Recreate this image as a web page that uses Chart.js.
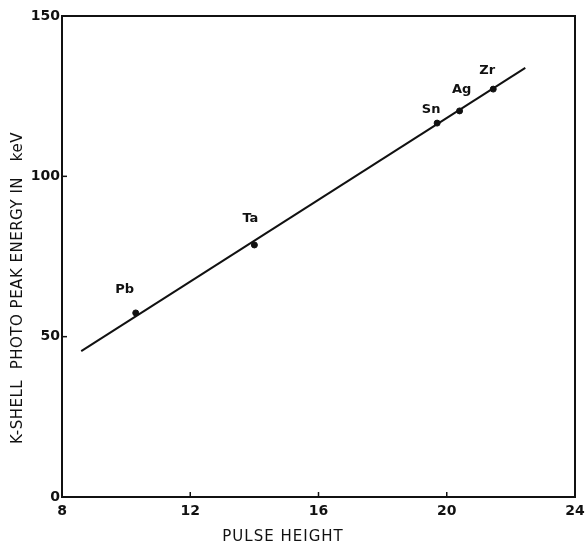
<!DOCTYPE html>
<html>
<head>
<meta charset="utf-8">
<script src="https://cdn.jsdelivr.net/npm/chart.js@4"></script>
<style>
  html, body { margin: 0; padding: 0; background: #fff; }
  #wrap { width: 585px; height: 544px; }
</style>
</head>
<body>
<div id="wrap"><canvas id="chart" width="585" height="544"></canvas></div>
<script>
// --- data ---
const elements = ['Pb', 'Ta', 'Sn', 'Ag', 'Zr'];
const pulseHeight = [10.3, 14.0, 19.7, 20.4, 21.45];
const peakEnergy = [57.4, 78.6, 116.6, 120.4, 127.2];

// fitted straight line, ends as drawn
const fitX = [8.6, 22.45];
const fitY = [45.5, 133.8];

const xTicks = [8, 12, 16, 20, 24];
const yTicks = [0, 50, 100, 150];

const INK = '#111';
const FONT = "'DejaVu Sans', sans-serif";

// label offsets from each point (px)
const LABEL_SHIFT = {
  Pb: [-11, -23], Ta: [-4, -26], Sn: [-6, -13], Ag: [2, -21], Zr: [-6, -18]
};

// box, inward tick marks, axis titles and element names
const paperPlugin = {
  id: 'paper',
  afterDatasetsDraw(chart) {
    const { ctx, chartArea: a, scales } = chart;
    ctx.save();
    ctx.strokeStyle = INK;
    ctx.lineWidth = 2;
    ctx.strokeRect(a.left, a.top, a.right - a.left, a.bottom - a.top);

    ctx.lineWidth = 1.5;
    xTicks.forEach(v => {
      const px = scales.x.getPixelForValue(v);
      ctx.beginPath(); ctx.moveTo(px, a.bottom); ctx.lineTo(px, a.bottom - 5); ctx.stroke();
    });
    yTicks.forEach(v => {
      const py = scales.y.getPixelForValue(v);
      ctx.beginPath(); ctx.moveTo(a.left, py); ctx.lineTo(a.left + 5, py); ctx.stroke();
    });

    ctx.fillStyle = INK;
    ctx.font = '600 13px ' + FONT;
    ctx.textAlign = 'center';
    ctx.textBaseline = 'middle';
    const meta = chart.getDatasetMeta(1);
    meta.data.forEach((pt, i) => {
      const off = LABEL_SHIFT[elements[i]] || [0, -18];
      ctx.fillText(elements[i], pt.x + off[0], pt.y + off[1]);
    });

    ctx.font = '15px ' + FONT;
    ctx.letterSpacing = '1px';
    ctx.fillText('PULSE HEIGHT', 283, 537);
    ctx.letterSpacing = '0.5px';
    ctx.translate(18, 288);
    ctx.rotate(-Math.PI / 2);
    ctx.fillText('K-SHELL  PHOTO PEAK ENERGY IN   keV', 0, 0);
    ctx.restore();
  }
};

new Chart(document.getElementById('chart'), {
  type: 'scatter',
  data: {
    datasets: [
      {
        type: 'line',
        data: fitX.map((x, i) => ({ x, y: fitY[i] })),
        borderColor: INK,
        borderWidth: 2,
        pointRadius: 0,
        fill: false
      },
      {
        data: pulseHeight.map((x, i) => ({ x, y: peakEnergy[i] })),
        backgroundColor: INK,
        borderColor: INK,
        pointRadius: 3
      }
    ]
  },
  options: {
    responsive: false,
    animation: false,
    layout: { padding: { top: 16, right: 0, left: 0, bottom: 0 } },
    plugins: { legend: { display: false }, tooltip: { enabled: false } },
    scales: {
      x: {
        type: 'linear', min: 8, max: 24,
        afterFit: s => { s.height = 47; s.paddingRight = 10; s.paddingLeft = 0; },
        afterBuildTicks: s => { s.ticks = xTicks.map(v => ({ value: v })); },
        grid: { display: false, drawTicks: false },
        border: { display: false },
        ticks: { color: INK, font: { family: FONT, size: 14, weight: '600' }, padding: 6 }
      },
      y: {
        type: 'linear', min: 0, max: 150,
        afterFit: s => { s.width = 62; },
        afterBuildTicks: s => { s.ticks = yTicks.map(v => ({ value: v })); },
        grid: { display: false, drawTicks: false },
        border: { display: false },
        ticks: { color: INK, font: { family: FONT, size: 14, weight: '600' }, padding: 2 }
      }
    }
  },
  plugins: [paperPlugin]
});
</script>
</body>
</html>
